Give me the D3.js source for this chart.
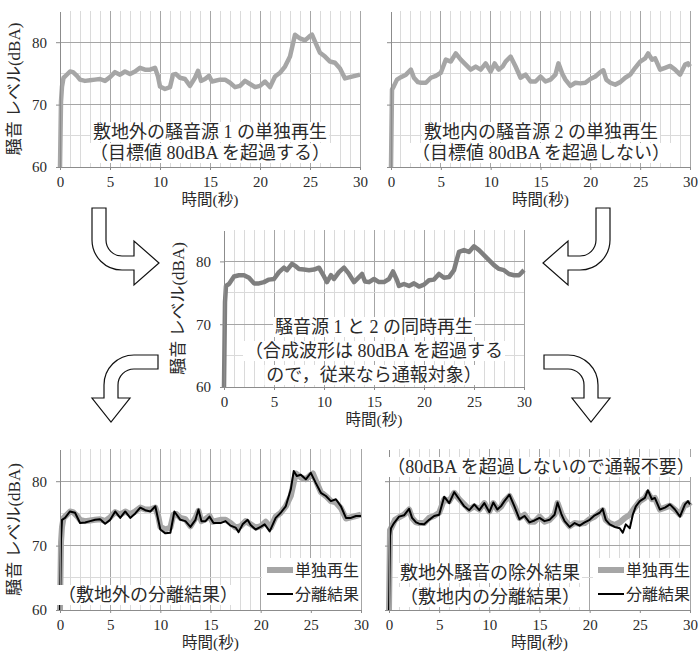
<!DOCTYPE html>
<html lang="ja">
<head>
<meta charset="utf-8">
<script src="https://cdn.jsdelivr.net/npm/d3@7"></script>
<style>
body { margin: 0; background: #fff; }
</style>
</head>
<body>
<svg id="chart" width="698" height="654"></svg>
<script>
// --- data (time in s, level in dBA) ---
var xTicks = [0, 5, 10, 15, 20, 25, 30];
var yTicks = [60, 70, 80];

// source 1 played alone (off-site)
var tSrc1 = [0, 0.1, 0.2, 0.35, 0.5, 1.0, 1.3, 1.7, 2, 2.5, 3, 3.5, 4, 4.5, 5, 5.5, 6, 6.5, 7, 7.5,
  8, 8.5, 9, 9.5, 9.8, 10, 10.5, 11, 11.3, 11.6, 12, 12.5, 13, 13.5, 13.8, 14.1, 14.5, 14.9, 15.2, 16,
  16.5, 17, 17.5, 18, 18.5, 19, 19.5, 20, 20.5, 21, 21.5, 22, 22.5, 23, 23.3, 23.5, 24, 24.5, 25, 25.2,
  25.5, 26, 26.5, 27, 27.5, 28, 28.5, 29, 29.5, 30];
var lvSrc1 = [60, 70.5, 72.9, 74.3, 74.5, 75.3, 75.2, 74.6, 74.0, 73.8, 73.9, 74.0, 74.1, 73.8, 74.4, 75.2, 74.8, 75.3, 74.9, 75.3,
  75.9, 75.6, 75.6, 75.9, 74.5, 72.9, 72.5, 72.8, 74.8, 74.9, 74.3, 74.1, 73.0, 74.3, 75.4, 73.8, 74.1, 74.6, 73.7, 74.0,
  74.0, 73.5, 72.8, 73.0, 73.8, 73.3, 72.8, 73.0, 73.7, 72.8, 74.5, 75.1, 76.1, 77.7, 79.8, 81.2, 80.6, 80.3, 81.0, 81.2,
  80.1, 78.3, 77.7, 76.9, 76.7, 75.8, 74.2, 74.4, 74.6, 74.8];

// source 2 played alone (on-site)
var tSrc2 = [0, 0.1, 0.3, 0.6, 1, 1.5, 2, 2.3, 2.7, 3, 3.5, 4, 4.5, 5, 5.5, 6, 6.5, 7, 7.5, 8,
  8.5, 9, 9.5, 10, 10.4, 10.8, 11.2, 11.5, 12, 12.5, 13, 13.5, 14, 14.5, 15, 15.5, 16, 16.5, 16.8, 17.2,
  17.5, 18, 18.5, 19, 19.5, 20, 20.5, 21, 21.3, 21.6, 22, 22.5, 23, 23.5, 24, 24.5, 25, 25.5, 25.8, 26.2,
  26.5, 27, 27.5, 28, 28.5, 29, 29.5, 29.8, 30];
var lvSrc2 = [60, 72.4, 73.0, 74.0, 74.4, 74.8, 75.6, 74.3, 73.6, 73.5, 73.5, 74.3, 74.6, 75.1, 77.2, 76.9, 78.2, 77.2, 76.4, 75.6,
  76.1, 75.6, 76.6, 75.3, 76.6, 75.6, 76.1, 76.9, 77.7, 76.1, 74.3, 74.8, 73.7, 73.7, 74.5, 73.7, 74.0, 74.8, 76.6, 74.9,
  74.0, 73.0, 73.5, 73.4, 73.5, 74.1, 74.5, 75.2, 75.5, 74.0, 73.5, 73.2, 73.6, 74.3, 74.8, 75.9, 76.9, 77.4, 78.2, 77.2,
  77.4, 75.6, 75.9, 76.2, 75.6, 74.8, 76.4, 76.6, 76.1];

// both played together
var tMix = [0, 0.1, 0.2, 0.5, 1, 1.5, 2, 2.5, 3, 3.5, 4, 4.5, 5, 5.5, 6, 6.3, 6.8, 7.2, 7.5, 8,
  8.5, 9, 9.5, 10, 10.3, 10.7, 11, 11.5, 12, 12.5, 13, 13.5, 13.8, 14.1, 14.5, 15, 15.5, 16, 16.5, 16.9,
  17.3, 17.5, 18, 18.5, 19, 19.5, 20, 20.5, 21, 21.5, 22, 22.5, 23, 23.3, 23.5, 24, 24.5, 25, 25.5, 26,
  26.5, 27, 27.5, 28, 28.5, 29, 29.5, 30];
var lvMix = [60, 73.5, 76.1, 76.4, 77.6, 77.8, 77.8, 77.4, 76.5, 76.5, 76.7, 77.1, 77.2, 78.3, 79.0, 78.6, 79.6, 79.2, 78.8, 78.7,
  78.6, 78.7, 79.0, 77.6, 76.7, 77.8, 77.2, 78.3, 79.0, 78.0, 76.7, 77.5, 78.0, 76.8, 76.7, 77.2, 76.7, 76.7, 77.2, 78.4,
  77.0, 76.1, 76.4, 76.1, 76.5, 76.0, 76.3, 77.0, 77.1, 78.0, 77.4, 77.5, 78.6, 80.4, 81.5, 81.8, 81.5, 82.4, 81.8, 81.0,
  80.2, 79.4, 78.8, 78.6, 78.0, 77.8, 77.8, 78.6];

// separated result, off-site
var tSep1 = [0, 0.1, 0.2, 0.5, 1, 1.5, 2, 2.5, 3, 3.5, 4, 4.5, 5, 5.5, 6, 6.5, 7, 7.5, 8, 8.5,
  9, 9.5, 10, 10.5, 11, 11.4, 12, 12.5, 13, 13.5, 13.8, 14.1, 14.5, 14.9, 15.3, 16, 16.5, 17, 17.5, 17.8,
  18.2, 18.7, 19, 19.5, 20, 20.4, 20.9, 21.5, 22, 22.5, 23, 23.3, 23.6, 24, 24.5, 25, 25.5, 26, 26.5, 27,
  27.5, 28, 28.5, 29, 29.5, 30];
var lvSep1 = [60, 71.0, 74.0, 74.3, 75.3, 75.1, 73.5, 73.6, 73.8, 74.0, 74.1, 73.4, 74.0, 75.3, 74.3, 75.3, 74.3, 75.0, 75.9, 75.5,
  75.3, 76.1, 72.5, 71.9, 72.0, 75.3, 74.0, 73.8, 72.9, 74.0, 75.6, 73.8, 73.8, 74.5, 73.5, 73.5, 73.8, 73.1, 72.8, 72.1,
  73.3, 74.0, 73.2, 72.5, 72.9, 73.3, 72.2, 74.3, 75.1, 76.1, 78.7, 81.6, 80.8, 81.0, 80.3, 81.3, 79.7, 78.2, 77.7, 76.9,
  77.2, 76.1, 74.3, 74.3, 74.6, 74.6];

// separated result, on-site
var tSep2 = [0, 0.1, 0.2, 0.5, 1, 1.5, 2, 2.3, 2.7, 3, 3.5, 4, 4.5, 5, 5.5, 6, 6.5, 7, 7.5, 8,
  8.5, 9, 9.5, 10, 10.4, 10.8, 11.2, 11.5, 12, 12.5, 13, 13.5, 14, 14.5, 15, 15.5, 16, 16.5, 16.8, 17.2,
  17.5, 18, 18.5, 19, 19.5, 20, 20.5, 21, 21.3, 21.6, 22, 22.5, 23, 23.3, 23.6, 24, 24.3, 24.6, 25, 25.5,
  25.8, 26.2, 26.5, 27, 27.5, 28, 28.5, 29, 29.5, 29.8, 30];
var lvSep2 = [60, 71.5, 72.7, 73.5, 74.5, 74.7, 75.7, 74.3, 73.6, 73.4, 73.3, 74.0, 74.6, 74.8, 77.6, 76.6, 78.3, 77.2, 76.1, 75.5,
  76.4, 75.5, 76.6, 75.2, 76.7, 75.6, 76.2, 76.9, 77.9, 76.1, 74.1, 74.6, 73.6, 73.9, 74.3, 73.8, 74.0, 74.8, 76.7, 74.8,
  73.8, 72.9, 73.5, 73.1, 73.6, 74.0, 74.7, 75.1, 75.7, 74.0, 73.3, 72.9, 72.7, 72.0, 73.3, 72.7, 74.8, 76.1, 76.9, 77.4,
  78.6, 77.2, 77.4, 75.6, 75.9, 76.4, 75.6, 74.5, 76.4, 76.9, 76.4];

var legendNames = ['単独再生', '分離結果'];

// --- styles ---
var FONT = "'Liberation Serif', 'Noto Sans CJK JP', serif";
var lightGray = { color: '#a6a6a6', width: 4.5 };
var darkGray = { color: '#7f7f7f', width: 4.5 };
var wideGray = { color: '#a6a6a6', width: 6 };
var thinBlack = { color: '#000', width: 2 };

var svg = d3.select('#chart');
svg.append('rect').attr('width', 698).attr('height', 654).attr('fill', '#fff');

function styleText(sel, size) {
  return sel.style('font-family', FONT).style('font-size', size + 'px').style('fill', '#2a2a2a');
}

function textBox(g, x, y, str, size, anchor) {
  var grp = g.append('g');
  var bg = grp.append('rect').attr('fill', '#fff');
  var t = grp.append('text')
    .attr('x', x).attr('y', y)
    .attr('dominant-baseline', 'central')
    .attr('text-anchor', anchor || 'middle')
    .text(str);
  styleText(t, size);
  var b = t.node().getBBox();
  bg.attr('x', b.x - 2).attr('y', b.y).attr('width', b.width + 4).attr('height', b.height);
  return t;
}

function drawPanel(p) {
  var x = d3.scaleLinear().domain([0, 30]).range([p.left, p.right]);
  var y = d3.scaleLinear().domain([60, 85]).range([p.bottom, p.top]);
  var g = svg.append('g');

  // grid
  g.selectAll('.vg').data(d3.range(1, 31)).enter().append('line')
    .attr('x1', function(d) { return x(d); }).attr('x2', function(d) { return x(d); })
    .attr('y1', y(60)).attr('y2', y(85))
    .attr('stroke', function(d) { return d % 5 === 0 ? '#a6a6a6' : '#dadada'; })
    .attr('shape-rendering', 'crispEdges');
  g.selectAll('.hg').data([65, 70, 75, 80]).enter().append('line')
    .attr('x1', x(0)).attr('x2', x(30))
    .attr('y1', function(d) { return y(d); }).attr('y2', function(d) { return y(d); })
    .attr('stroke', function(d) { return d % 10 === 0 ? '#a6a6a6' : '#dadada'; })
    .attr('shape-rendering', 'crispEdges');

  // series
  var line = d3.line().x(function(d) { return x(d[0]); }).y(function(d) { return y(d[1]); });
  p.series.forEach(function(s) {
    g.append('path')
      .datum(d3.zip(s.t, s.v))
      .attr('d', line)
      .attr('fill', 'none')
      .attr('stroke', s.style.color)
      .attr('stroke-width', s.style.width)
      .attr('stroke-linejoin', 'round');
  });

  // axes
  var xa = g.append('g')
    .attr('transform', 'translate(0,' + y(60) + ')')
    .call(d3.axisBottom(x).tickValues(xTicks).tickSize(3).tickSizeOuter(0).tickPadding(6));
  var ya = g.append('g')
    .attr('transform', 'translate(' + x(0) + ',0)')
    .call(d3.axisLeft(y).tickValues(yTicks).tickSize(4).tickSizeOuter(0).tickPadding(9)
      .tickFormat(p.yLabels ? d3.format('d') : function() { return ''; }));
  [xa, ya].forEach(function(a) {
    a.attr('color', '#8c8c8c').attr('font-family', null);
    styleText(a.selectAll('text'), 15);
    a.select('.domain').attr('shape-rendering', 'crispEdges');
  });

  styleText(g.append('text')
    .attr('x', (p.left + p.right) / 2).attr('y', p.bottom + 32)
    .attr('text-anchor', 'middle').attr('dominant-baseline', 'central')
    .text('時間(秒)'), 15.5);
  if (p.yLabels) {
    styleText(g.append('text')
      .attr('transform', 'translate(' + (p.left - 46) + ',' + ((p.top + p.bottom) / 2) + ') rotate(-90)')
      .attr('text-anchor', 'middle').attr('dominant-baseline', 'central')
      .text('騒音 レベル(dBA)'), 17);
  }

  (p.notes || []).forEach(function(n) {
    textBox(g, n.x, n.y, n.text, n.size || 18, n.anchor);
  });

  if (p.legend) {
    var lg = g.append('g');
    lg.append('rect').attr('x', p.legend.x - 5).attr('y', p.legend.y - 12)
      .attr('width', p.right - p.legend.x + 5).attr('height', 52).attr('fill', '#fff');
    [wideGray, thinBlack].forEach(function(st, i) {
      var ly = p.legend.y + i * 24;
      lg.append('line').attr('x1', p.legend.x).attr('x2', p.legend.x + 26)
        .attr('y1', ly).attr('y2', ly)
        .attr('stroke', st.color).attr('stroke-width', st.width);
      styleText(lg.append('text').attr('x', p.legend.x + 28).attr('y', ly)
        .attr('dominant-baseline', 'central')
        .text(legendNames[i]), 16);
    });
  }
}

drawPanel({
  left: 60, right: 360, top: 11, bottom: 167, yLabels: true,
  series: [{ t: tSrc1, v: lvSrc1, style: lightGray }],
  notes: [
    { x: 210, y: 132, text: '敷地外の騒音源 1 の単独再生' },
    { x: 210, y: 153, text: '（目標値 80dBA を超過する）' }
  ]
});
drawPanel({
  left: 391, right: 690, top: 11, bottom: 167, yLabels: false,
  series: [{ t: tSrc2, v: lvSrc2, style: lightGray }],
  notes: [
    { x: 541, y: 132, text: '敷地内の騒音源 2 の単独再生' },
    { x: 541, y: 153, text: '（目標値 80dBA を超過しない）' }
  ]
});
drawPanel({
  left: 224, right: 524, top: 230, bottom: 387, yLabels: true,
  series: [{ t: tMix, v: lvMix, style: darkGray }],
  notes: [
    { x: 374, y: 327, text: '騒音源 1 と 2 の同時再生' },
    { x: 374, y: 351, text: '（合成波形は 80dBA を超過する' },
    { x: 374, y: 375, text: 'ので，従来なら通報対象）' }
  ]
});
drawPanel({
  left: 60, right: 361, top: 449, bottom: 610, yLabels: true,
  series: [{ t: tSrc1, v: lvSrc1, style: wideGray }, { t: tSep1, v: lvSep1, style: thinBlack }],
  notes: [{ x: 148, y: 595, text: '（敷地外の分離結果）' }],
  legend: { x: 267, y: 570 }
});
drawPanel({
  left: 389, right: 690, top: 449, bottom: 610, yLabels: false,
  series: [{ t: tSrc2, v: lvSrc2, style: wideGray }, { t: tSep2, v: lvSep2, style: thinBlack }],
  notes: [
    { x: 541, y: 467, text: '（80dBA を超過しないので通報不要）' },
    { x: 490, y: 573, text: '敷地外騒音の除外結果' },
    { x: 490, y: 597, text: '（敷地内の分離結果）' }
  ],
  legend: { x: 598, y: 570 }
});

// hollow bent arrows between the panels
var arrowDownRight = 'M92,208 V240 A30,30 0 0 0 122,270 H134 V285 L159,263 L134,241 V256 H122 A16,16 0 0 1 106,240 V208 Z';
var arrowLeftDown = 'M158,355 H134 A30,30 0 0 0 104,385 V398 H92 L111,422 L130,398 H118 V385 A16,16 0 0 1 134,369 H158 Z';
var arrows = svg.append('g').attr('fill', '#fff').attr('stroke', '#111').attr('stroke-width', 1.2);
[arrowDownRight, arrowLeftDown].forEach(function(d) {
  arrows.append('path').attr('d', d);
  arrows.append('path').attr('d', d).attr('transform', 'translate(702,0) scale(-1,1)');
});
</script>
</body>
</html>
